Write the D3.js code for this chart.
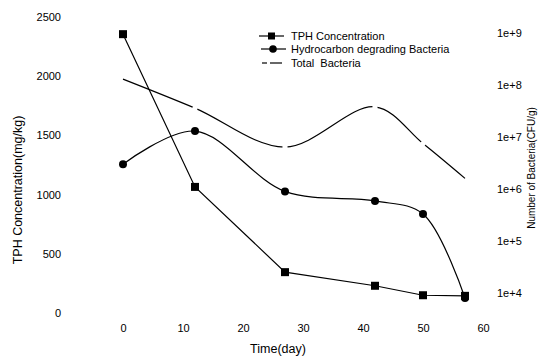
<!DOCTYPE html>
<html><head><meta charset="utf-8">
<script src="https://cdn.jsdelivr.net/npm/d3@7"></script>
<style>
html,body{margin:0;padding:0;background:#fff;}
svg{display:block;font-family:"Liberation Sans",Arial,sans-serif;}
</style></head>
<body>
<svg id="chart" width="539" height="358"></svg>
<script>
const days = [0, 12, 27, 42, 50, 57];
const tph = [2355, 1065, 345, 230, 150, 145];
const hydroBacteria = [3.0e6, 1.3e7, 9.0e5, 5.9e5, 3.3e5, 8.0e3];
const totalBacteria = [1.3e8, 3.6e7, 6.4e6, 3.8e7, 7.5e6, 1.6e6];
const xTicks = [0, 10, 20, 30, 40, 50, 60];
const leftTicks = [0, 500, 1000, 1500, 2000, 2500];
const rightTicks = [1e4, 1e5, 1e6, 1e7, 1e8, 1e9];
const legendLabels = ["TPH Concentration", "Hydrocarbon degrading Bacteria", "Total  Bacteria"];

const svg = d3.select("#chart");
const x = d3.scaleLinear().domain([0, 60]).range([123, 483]);
const yL = d3.scaleLinear().domain([0, 2500]).range([313, 17]);
const yR = d3.scaleLog().domain([1e4, 1e9]).range([293, 33]);

// axes (no lines)
const ax1 = svg.append("g").attr("transform", "translate(63,0)")
  .call(d3.axisLeft(yL).tickValues(leftTicks).tickSize(0).tickPadding(2).tickFormat(d3.format("d")));
const ax2 = svg.append("g").attr("transform", "translate(0,324)")
  .call(d3.axisBottom(x).tickValues(xTicks).tickSize(0).tickPadding(0).tickFormat(d3.format("d")));
const ax3 = svg.append("g").attr("transform", "translate(495,0)")
  .call(d3.axisRight(yR).tickValues(rightTicks).tickSize(0).tickPadding(2)
    .tickFormat(d => "1e+" + Math.round(Math.log10(d))));
[ax1, ax2, ax3].forEach(a => {
  a.select(".domain").remove();
  a.selectAll("text").attr("font-size", 11).attr("fill", "#000")
    .attr("font-family", "Liberation Sans, Arial, sans-serif");
});

// titles
svg.append("text").attr("transform", "translate(22,190) rotate(-90)")
  .attr("text-anchor", "middle").attr("font-size", 12.5).text("TPH Concentration(mg/kg)");
svg.append("text").attr("x", 278).attr("y", 353)
  .attr("text-anchor", "middle").attr("font-size", 12.5).text("Time(day)");
svg.append("text").attr("transform", "translate(535,168) rotate(-90)")
  .attr("text-anchor", "middle").attr("font-size", 10).text("Number of Bacteria(CFU/g)");

// total bacteria curve
const totalLine = d3.line().x((d, i) => x(days[i])).y(d => yR(d)).curve(d3.curveCatmullRom);
svg.append("path").attr("d", totalLine(totalBacteria))
  .attr("fill", "none").attr("stroke", "#000").attr("stroke-width", 1.2);
svg.selectAll(".tgap").data(totalBacteria.slice(1, 5)).enter().append("circle")
  .attr("cx", (d, i) => x(days[i + 1])).attr("cy", d => yR(d)).attr("r", 2.6).attr("fill", "#fff");

// hydrocarbon degrading bacteria curve
const hLine = d3.line().x((d, i) => x(days[i])).y(d => yR(d)).curve(d3.curveCatmullRom);
svg.append("path").attr("d", hLine(hydroBacteria))
  .attr("fill", "none").attr("stroke", "#000").attr("stroke-width", 1.2);
svg.selectAll(".hpt").data(hydroBacteria).enter().append("circle")
  .attr("cx", (d, i) => x(days[i])).attr("cy", d => yR(d)).attr("r", 4).attr("fill", "#000");

// TPH polyline
const tLine = d3.line().x((d, i) => x(days[i])).y(d => yL(d));
svg.append("path").attr("d", tLine(tph))
  .attr("fill", "none").attr("stroke", "#000").attr("stroke-width", 1.2);
svg.selectAll(".tpt").data(tph).enter().append("rect")
  .attr("x", (d, i) => x(days[i]) - 4).attr("y", d => yL(d) - 4)
  .attr("width", 8).attr("height", 8).attr("fill", "#000");

// legend
const lg = svg.append("g");
const rowsY = [36, 49, 63];
legendLabels.forEach((t, i) => {
  lg.append("text").attr("x", 291).attr("y", rowsY[i] + 4).attr("font-size", 11)
    .style("white-space", "pre").text(t);
});
lg.append("line").attr("x1", 259).attr("x2", 284).attr("y1", rowsY[0]).attr("y2", rowsY[0]).attr("stroke", "#000").attr("stroke-width", 1.2);
lg.append("rect").attr("x", 268).attr("y", rowsY[0] - 3.5).attr("width", 7).attr("height", 7).attr("fill", "#000");
lg.append("line").attr("x1", 261).attr("x2", 286).attr("y1", rowsY[1]).attr("y2", rowsY[1]).attr("stroke", "#000").attr("stroke-width", 1.2);
lg.append("circle").attr("cx", 273).attr("cy", rowsY[1]).attr("r", 3.8).attr("fill", "#000");
lg.append("line").attr("x1", 262).attr("x2", 267).attr("y1", rowsY[2]).attr("y2", rowsY[2]).attr("stroke", "#000").attr("stroke-width", 1.2);
lg.append("line").attr("x1", 270).attr("x2", 282).attr("y1", rowsY[2]).attr("y2", rowsY[2]).attr("stroke", "#000").attr("stroke-width", 1.2);
</script>
</body></html>
